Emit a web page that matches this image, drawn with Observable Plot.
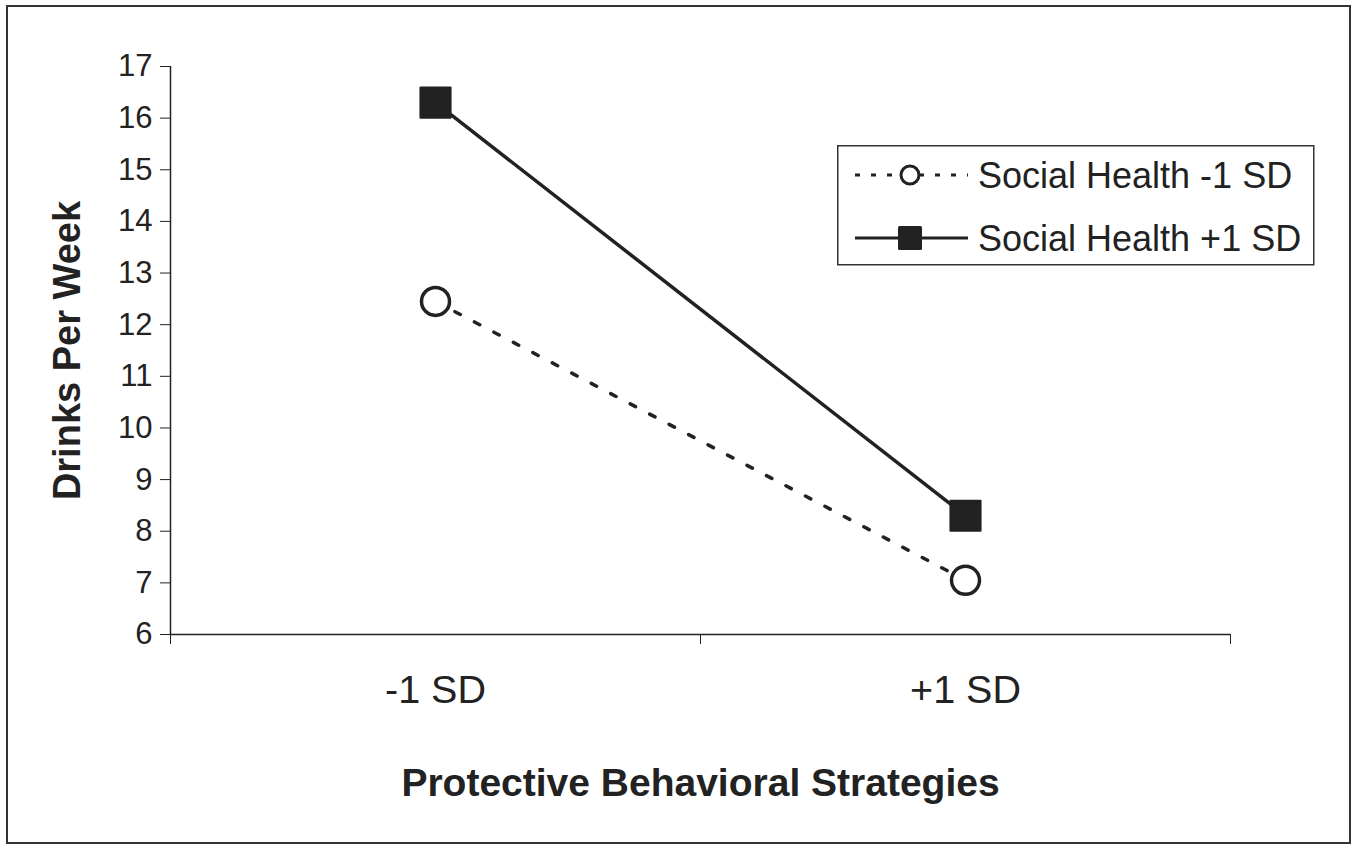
<!DOCTYPE html>
<html><head><meta charset="utf-8">
<script src="https://cdn.jsdelivr.net/npm/d3@7"></script>
<script src="https://cdn.jsdelivr.net/npm/@observablehq/plot@0.6"></script>
<style>
body{margin:0;background:#fff;}
#wrap{position:relative;width:1357px;height:850px;font-family:"Liberation Sans",Arial,sans-serif;color:#222;}
#border{position:absolute;left:6px;top:5px;width:1345px;height:839px;border:2px solid #333;box-sizing:border-box;pointer-events:none;}
#chart{position:absolute;left:0;top:0;}
#legend{position:absolute;left:837px;top:145px;}
</style></head><body>
<div id="wrap"><div id="chart"></div><div id="border"></div><div id="legend"></div></div>
<script>
const categories = ["-1 SD", "+1 SD"];
const seriesNames = ["Social Health -1 SD", "Social Health +1 SD"];
const lowSocial = [12.45, 7.05];
const highSocial = [16.3, 8.3];
const yTicks = [6, 7, 8, 9, 10, 11, 12, 13, 14, 15, 16, 17];
const xTitle = "Protective Behavioral Strategies";
const yTitle = "Drinks Per Week";

const low = categories.map((c, i) => ({series: seriesNames[0], x: i + 0.5, y: lowSocial[i]}));
const high = categories.map((c, i) => ({series: seriesNames[1], x: i + 0.5, y: highSocial[i]}));
const ink = "#222";

const plot = Plot.plot({
  width: 1357, height: 850,
  marginLeft: 170, marginTop: 66, marginBottom: 216, marginRight: 127,
  style: {fontFamily: '"Liberation Sans", Arial, sans-serif', color: ink, background: "transparent"},
  x: {domain: [0, categories.length]},
  y: {domain: [6, 17]},
  marks: [
    Plot.ruleX([0], {stroke: ink, strokeWidth: 1.5}),
    Plot.ruleY([6], {stroke: ink, strokeWidth: 1.5}),
    Plot.axisY({ticks: yTicks, tickSize: 10, tickPadding: 8, fontSize: 31, label: null, stroke: ink}),
    Plot.axisY({ticks: [], label: yTitle, labelAnchor: "center", labelArrow: "none", labelOffset: 117, fontSize: 38, fontWeight: "bold"}),
    Plot.axisX({ticks: d3.range(categories.length + 1), tickSize: 10, tickFormat: () => "", label: null, stroke: ink}),
    Plot.axisX({ticks: categories.map((d, i) => i + 0.5), tickSize: 0, tickPadding: 40, tickFormat: v => categories[Math.round(v - 0.5)], fontSize: 39.5, label: null}),
    Plot.axisX({ticks: [], label: xTitle, labelAnchor: "center", labelArrow: "none", labelOffset: 161, fontSize: 39, fontWeight: "bold"}),
    Plot.line(low, {x: "x", y: "y", stroke: ink, strokeWidth: 3.5, strokeDasharray: "6,16"}),
    Plot.line(high, {x: "x", y: "y", stroke: ink, strokeWidth: 3.5}),
    Plot.dot(low, {x: "x", y: "y", r: 14, stroke: ink, strokeWidth: 3.5, fill: "white"}),
    Plot.dot(high, {x: "x", y: "y", symbol: "square", r: 17, fill: ink, stroke: ink, strokeWidth: 2, strokeLinejoin: "round"})
  ]
});
document.getElementById("chart").appendChild(plot);

// legend
const lg = d3.select("#legend").append("svg").attr("width", 478).attr("height", 121)
  .style("font-family", '"Liberation Sans", Arial, sans-serif');
lg.append("rect").attr("x", 0.75).attr("y", 0.75).attr("width", 476).attr("height", 119)
  .attr("fill", "white").attr("stroke", "#333").attr("stroke-width", 1.5);
const rows = [30, 93];
seriesNames.forEach((name, i) => {
  const y = rows[i];
  lg.append("line").attr("x1", 18).attr("x2", 131).attr("y1", y).attr("y2", y)
    .attr("stroke", ink).attr("stroke-width", 3)
    .attr("stroke-dasharray", i === 0 ? "5,11" : null);
  if (i === 0) {
    lg.append("circle").attr("cx", 73).attr("cy", y).attr("r", 9)
      .attr("fill", "white").attr("stroke", ink).attr("stroke-width", 3);
  } else {
    lg.append("rect").attr("x", 61).attr("y", y - 12).attr("width", 24).attr("height", 24)
      .attr("fill", ink).attr("rx", 1.5);
  }
  lg.append("text").attr("x", 141).attr("y", y).attr("dy", "0.36em")
    .attr("font-size", 36).attr("fill", ink).text(name);
});
</script>
</body></html>
